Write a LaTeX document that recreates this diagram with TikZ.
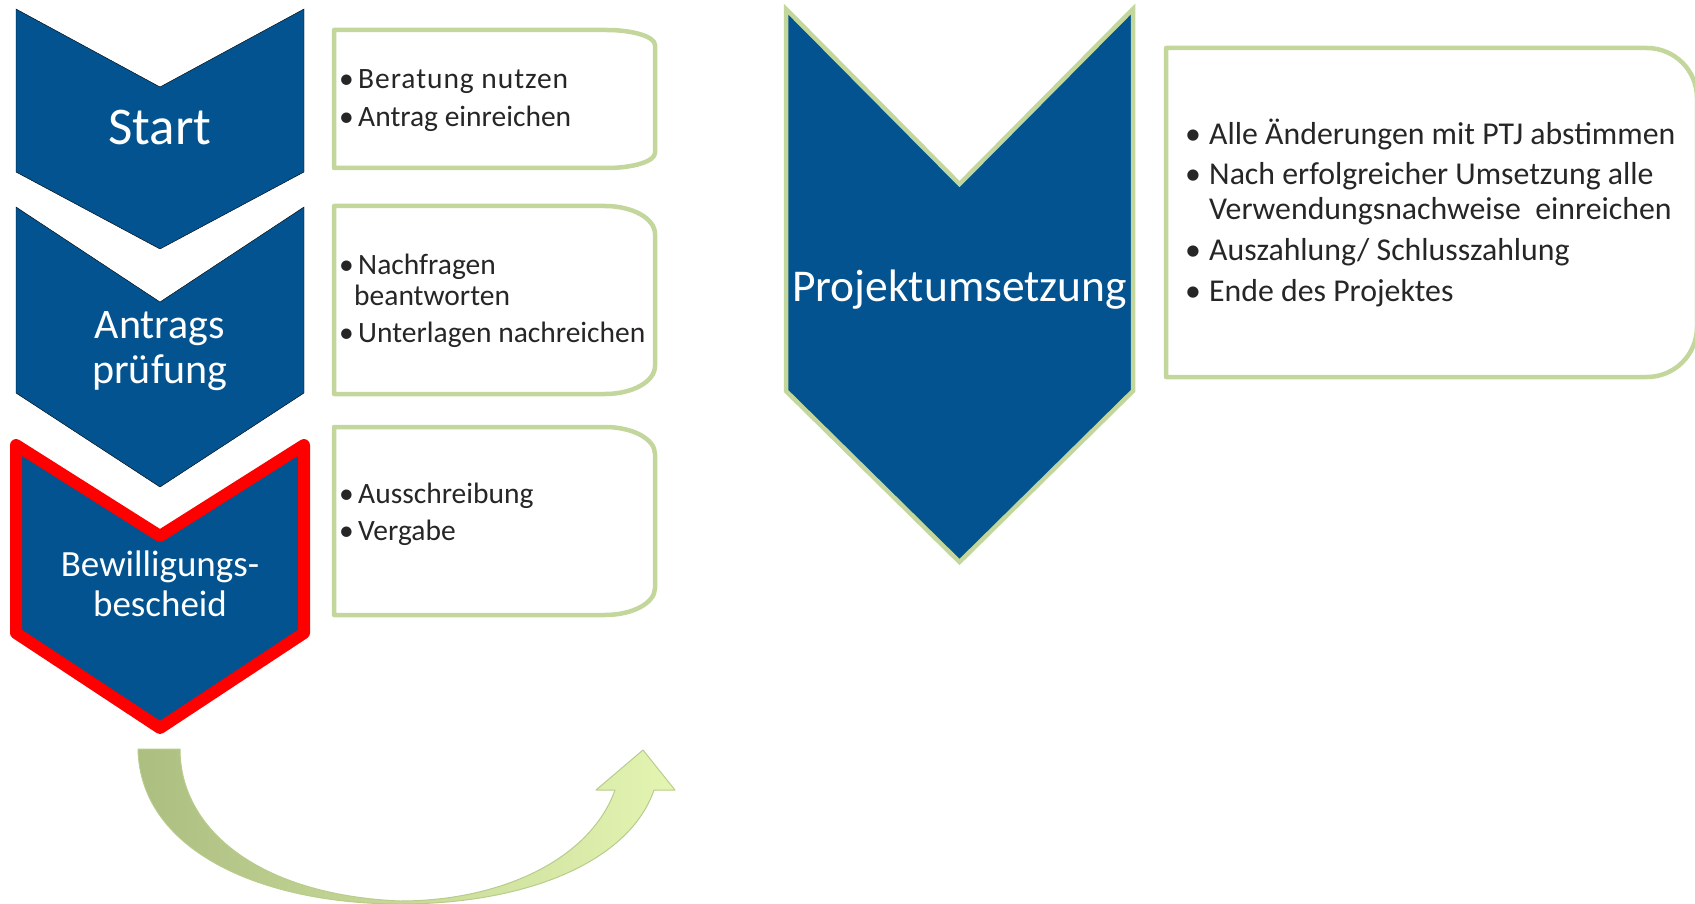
\documentclass[tikz,border=0pt]{standalone}
\usepackage{fontspec}
\setmainfont{Carlito}
\definecolor{navy}{RGB}{2,83,143}
\definecolor{lgreen}{RGB}{195,214,155}
\definecolor{txtc}{RGB}{38,38,38}
\definecolor{arrL}{RGB}{172,190,128}
\definecolor{arrR}{RGB}{228,245,178}
\definecolor{arrB}{RGB}{184,204,140}
\tikzset{
  chev/.style={fill=navy},
  gbox/.style={draw=lgreen, line width=4.5pt, fill=white, line join=round},
  ctitle/.style={text=white, anchor=base, inner sep=0pt},
  btext/.style={text=txtc, anchor=base west, inner sep=0pt, font=\fontsize{29.5}{35}\selectfont},
  bdot/.style={text=txtc, anchor=base, inner sep=0pt, font=\fontsize{29.5}{35}\selectfont},
  rtext/.style={text=txtc, anchor=base west, inner sep=0pt, font=\fontsize{31.8}{38}\selectfont},
  rdot/.style={text=txtc, anchor=base, inner sep=0pt, font=\fontsize{31.8}{38}\selectfont},
}
\begin{document}
\begin{tikzpicture}[x=1pt,y=-1pt]
\useasboundingbox (0,0) rectangle (1695,904);
% chevrons
\draw[chev] (16,9) -- (160,87) -- (304,9) -- (304,172) -- (160,249) -- (16,172) -- cycle;
\draw[chev] (16,207) -- (160,302) -- (304,207) -- (304,393) -- (160,487) -- (16,393) -- cycle;
\draw[chev, draw=red, line width=12pt, line join=round] (16,445) -- (160,536) -- (304,445) -- (304,633) -- (160,728) -- (16,633) -- cycle;
\draw[chev, draw=lgreen, line width=4.5pt] (786,9) -- (959.5,184) -- (1133,9) -- (1133,391) -- (959.5,562) -- (786,391) -- cycle;
% boxes
\draw[gbox] (334,30) -- (607,30) .. controls (633,30) and (655,36.7) .. (655,45) -- (655,153) .. controls (655,161.3) and (633,168) .. (607,168) -- (334,168) -- cycle;
\draw[gbox] (334,206) -- (605,206) .. controls (632.6,206) and (655,218.5) .. (655,234) -- (655,366) .. controls (655,381.5) and (632.6,394) .. (605,394) -- (334,394) -- cycle;
\draw[gbox] (334,427) -- (605,427) .. controls (632.6,427) and (655,439) .. (655,454) -- (655,588) .. controls (655,603) and (632.6,615) .. (605,615) -- (334,615) -- cycle;
\draw[gbox] (1166,48) -- (1647,48) .. controls (1674.6,48) and (1697,70.4) .. (1697,98) -- (1697,327) .. controls (1697,354.6) and (1674.6,377) .. (1647,377) -- (1166,377) -- cycle;
% curved arrow
\draw[draw=arrB, line width=1pt, left color=arrL, right color=arrR, line join=round]
  (138,749) .. controls (140,850) and (260,904) .. (400,904)
  .. controls (530,904) and (630,860) .. (654,790)
  -- (675,790) -- (643,750) -- (596,790) -- (615,790)
  .. controls (590,860) and (500,901) .. (400,901)
  .. controls (260,895) and (180,830) .. (180,749) -- cycle;
% chevron titles
\node[ctitle, font=\fontsize{53}{62}\selectfont] (tStart) at (160,145) {Start};
\node[ctitle, font=\fontsize{42}{50}\selectfont] (tAnt1) at (160,338) {Antrags};
\node[ctitle, font=\fontsize{42}{50}\selectfont] (tAnt2) at (160,383) {prüfung};
\node[ctitle, font=\fontsize{37}{44}\selectfont] (tBew1) at (160,576) {Bewilligungs-};
\node[ctitle, font=\fontsize{37}{44}\selectfont] (tBew2) at (160,616) {bescheid};
\node[ctitle, font=\fontsize{45.5}{54}\selectfont] (tProj) at (959.5,301) {Projektumsetzung};
% box 1
\node[bdot] (d11) at (346.5,89) {•};
\node[btext, font=\fontsize{29.5}{35}\selectfont\addfontfeature{LetterSpace=3.2}] (b11) at (358,89) {Beratung nutzen};
\node[bdot] (d12) at (346.5,127) {•};
\node[btext] (b12) at (358,127) {Antrag einreichen};
% box 2
\node[bdot] (d21) at (346.5,274) {•};
\node[btext] (b21) at (358,274) {Nachfragen};
\node[btext] (b22) at (354,305) {beantworten};
\node[bdot] (d23) at (346.5,342) {•};
\node[btext] (b23) at (358,342) {Unterlagen nachreichen};
% box 3
\node[bdot] (d31) at (346.5,503) {•};
\node[btext] (b31) at (358,503) {Ausschreibung};
\node[bdot] (d32) at (346.5,540) {•};
\node[btext] (b32) at (358,540) {Vergabe};
% box 4
\node[rdot] (d41) at (1193,145) {•};
\node[rtext] (b41) at (1209,145) {Alle Änderungen mit PTJ abstimmen};
\node[rdot] (d42) at (1193,185) {•};
\node[rtext] (b42) at (1209,185) {Nach erfolgreicher Umsetzung alle};
\node[rtext] (b43) at (1209,220) {Verwendungsnachweise\ \ einreichen};
\node[rdot] (d44) at (1193,261) {•};
\node[rtext] (b44) at (1209,261) {Auszahlung/ Schlusszahlung};
\node[rdot] (d45) at (1193,301) {•};
\node[rtext] (b45) at (1209,301) {Ende des Projektes};
\end{tikzpicture}
\end{document}
